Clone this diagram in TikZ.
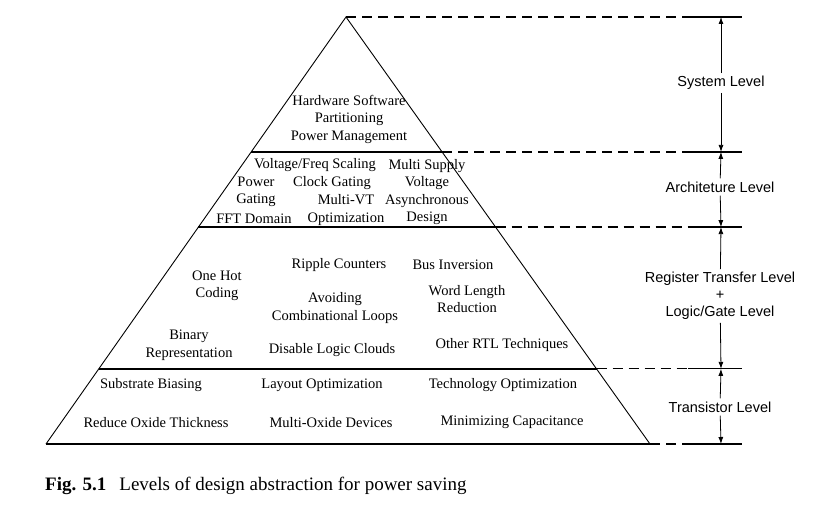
\documentclass[tikz,border=0pt]{standalone}
\usepackage{fontspec}
\setmainfont{Liberation Serif}
\newfontfamily\levelfont{Liberation Sans}
\usetikzlibrary{calc,arrows.meta}
\tikzset{
  item/.style={font=\fontsize{14.5}{17.5}\selectfont, align=center, inner sep=0pt},
  levellabel/.style={font=\levelfont\fontsize{14.5}{17}\selectfont, align=center, inner sep=3pt},
  guide/.style={dash pattern=on 10pt off 6pt, line width=1.2pt},
  span/.style={-{Latex[length=7pt,width=5pt]}, line width=0.8pt}
}
\begin{document}
\begin{tikzpicture}[x=1pt,y=-1pt]
  \useasboundingbox (0,0) rectangle (822,524);
  % pyramid corners and level boundaries
  \coordinate (apex) at (346,17);
  \coordinate (bl) at (46,444);
  \coordinate (br) at (650,444);
  \coordinate (la) at ($(apex)!0.316!(bl)$);
  \coordinate (ra) at ($(apex)!0.316!(br)$);
  \coordinate (lb) at ($(apex)!0.492!(bl)$);
  \coordinate (rb) at ($(apex)!0.492!(br)$);
  \coordinate (lc) at ($(apex)!0.824!(bl)$);
  \coordinate (rc) at ($(apex)!0.824!(br)$);
  \coordinate (d) at (688,0);
  \coordinate (e) at (742,0);
  \coordinate (v) at (721,0);

  \draw[line width=0.9pt] (bl) -- (apex) -- (br);
  \draw[line width=2.6pt] (bl) -- (br);
  \draw[line width=1.3pt] (la) -- (ra);
  \draw[line width=1.3pt] (lb) -- (rb);
  \draw[line width=1.3pt] (lc) -- (rc);

  % guides to the right
  \draw[guide] (apex) -- (apex -| d);
  \draw[line width=1.2pt] (apex -| d) -- (apex -| e);
  \draw[guide] (ra) -- (ra -| d);
  \draw[line width=1.2pt] (ra -| d) -- (ra -| e);
  \draw[guide] (rb) -- (rb -| d);
  \draw[line width=1.2pt] (rb -| d) -- (rb -| e);
  \draw[guide] (rc) -- (rc -| d);
  \draw[line width=1.2pt] (rc -| d) -- (rc -| e);
  \draw[guide, line width=2.4pt] (br) -- (br -| d);
  \draw[line width=2.4pt] (br -| d) -- (br -| e);

  % level labels
  \node[levellabel] (sys) at (721,83) {System Level};
  \node[levellabel] (arch) at (720,187) {Architeture Level};
  \node[levellabel] (rtlgate) at (720,296) {Register Transfer Level\\+\\Logic/Gate Level};
  \node[levellabel] (trans) at (720,407) {Transistor Level};
  \draw[span] (sys) -- (apex -| v);
  \draw[span] (sys) -- (ra -| v);
  \draw[span] (arch) -- (ra -| v);
  \draw[span] (arch) -- (rb -| v);
  \draw[span] (rtlgate) -- (rb -| v);
  \draw[span] (rtlgate) -- (rc -| v);
  \draw[span] (trans) -- (rc -| v);
  \draw[span] (trans) -- (br -| v);

  % system level
  \node[item] (hw) at (349,119) {Hardware Software\\Partitioning\\Power Management};

  % architecture level
  \node[item] (vfs) at (315,165) {Voltage/Freq Scaling};
  \node[item] (msv) at (427,192) {Multi Supply\\Voltage\\Asynchronous\\Design};
  \node[item] (pg) at (256,192) {Power\\Gating};
  \node[item] (cg) at (332,183) {Clock Gating};
  \node[item] (mvt) at (346,210) {Multi-VT\\Optimization};
  \node[item] (fft) at (254,219) {FFT Domain};

  % register transfer level
  \node[item] (rip) at (339,265) {Ripple Counters};
  \node[item] (hot) at (217,286) {One Hot\\Coding};
  \node[item] (avl) at (335,308) {Avoiding\\Combinational Loops};
  \node[item] (bin) at (189,345) {Binary\\Representation};
  \node[item] (dlc) at (332,350) {Disable Logic Clouds};
  \node[item] (bus) at (453,265) {Bus Inversion};
  \node[item] (wlr) at (467,299) {Word Length\\Reduction};
  \node[item] (ortl) at (502,345) {Other RTL Techniques};

  % transistor level
  \node[item] (sub) at (151,385) {Substrate Biasing};
  \node[item] (lay) at (322,385) {Layout Optimization};
  \node[item] (tech) at (503,385) {Technology Optimization};
  \node[item] (rox) at (156,423) {Reduce Oxide Thickness};
  \node[item] (mox) at (331,423) {Multi-Oxide Devices};
  \node[item] (mincap) at (512,422) {Minimizing Capacitance};

  % caption
  \node[anchor=base west, inner sep=0pt, font=\fontsize{19}{22}\selectfont] (cap) at (45,490)
    {\textbf{Fig. 5.1}\hspace{13pt}Levels of design abstraction for power saving};
\end{tikzpicture}
\end{document}
